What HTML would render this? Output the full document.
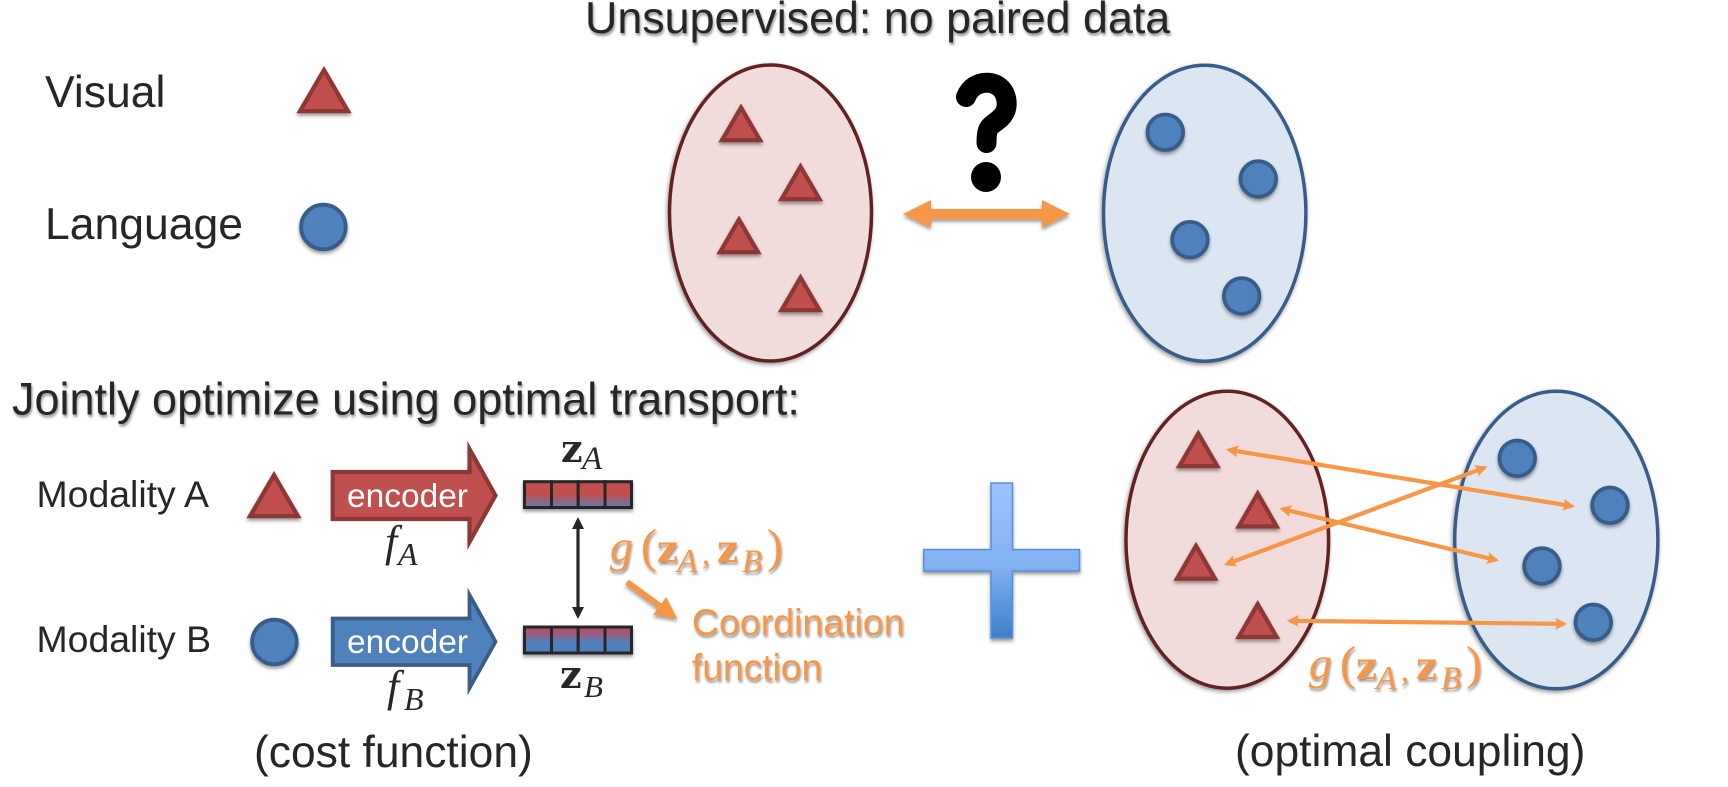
<!DOCTYPE html>
<html>
<head>
<meta charset="utf-8">
<style>
html,body{margin:0;padding:0;background:#fff;width:1728px;height:787px;overflow:hidden}
svg{display:block}
.s{font-family:"Liberation Sans",Arial,sans-serif;fill:#262626}
.m{font-family:"Liberation Serif",serif;fill:#262626}
.z{font-family:"DejaVu Serif",serif;font-weight:bold;fill:#262626}
.i{font-style:italic}
.o{fill:#f79646}
.r{fill:#c0504d;stroke:#8c3836;stroke-width:4.2;stroke-miterlimit:10}
.c{fill:#4f81bd;stroke:#385d8a;stroke-width:3.8}
</style>
</head>
<body>
<svg width="1728" height="787" viewBox="0 0 1728 787" xmlns="http://www.w3.org/2000/svg">
<defs>
<filter id="sh" x="-30%" y="-30%" width="160%" height="160%"><feDropShadow dx="0" dy="2.5" stdDeviation="1.8" flood-color="#000" flood-opacity=".4"/></filter>
<filter id="es" x="-10%" y="-10%" width="120%" height="120%"><feDropShadow dx="-1" dy="2" stdDeviation="2.2" flood-color="#000" flood-opacity=".4"/></filter>
<filter id="ts" x="-5%" y="-20%" width="110%" height="150%"><feDropShadow dx="1" dy="2.5" stdDeviation="1.3" flood-color="#000" flood-opacity=".42"/></filter>
<linearGradient id="ga" x1="0" y1="0" x2="0" y2="1"><stop offset="0" stop-color="#c0504d"/><stop offset=".5" stop-color="#c0504d"/><stop offset="1" stop-color="#5f7cb6"/></linearGradient>
<linearGradient id="gb" x1="0" y1="0" x2="0" y2="1"><stop offset="0" stop-color="#a8566f"/><stop offset=".2" stop-color="#a8566f"/><stop offset=".6" stop-color="#4f81bd"/><stop offset="1" stop-color="#4f81bd"/></linearGradient>
<linearGradient id="gp" x1="0" y1="0" x2="0" y2="1"><stop offset="0" stop-color="#9dc3ff"/><stop offset=".55" stop-color="#7fb0f0"/><stop offset="1" stop-color="#3d7ecb"/></linearGradient>
<marker id="mo" markerUnits="userSpaceOnUse" viewBox="0 0 12 12" refX="9" refY="6" markerWidth="12" markerHeight="12" orient="auto-start-reverse"><polygon points="0,0 12,6 0,12 2,6" fill="#f79646"/></marker>
<marker id="mk" markerUnits="userSpaceOnUse" viewBox="0 0 12 12" refX="9" refY="6" markerWidth="12" markerHeight="12" orient="auto-start-reverse"><polygon points="0,0 12,6 0,12" fill="#262626"/></marker>
<marker id="mO" markerUnits="userSpaceOnUse" viewBox="0 0 22 22" refX="14" refY="11" markerWidth="22" markerHeight="22" orient="auto"><polygon points="0,0 22,11 0,22" fill="#f79646"/></marker>
</defs>

<!-- Titles -->
<g filter="url(#ts)">
<text class="s" x="585" y="33" font-size="44.8">Unsupervised: no paired data</text>
<text class="s" x="12" y="414.5" font-size="45">Jointly optimize using optimal transport:</text>
</g>

<!-- Legend -->
<text class="s" x="45" y="107" font-size="44.5">Visual</text>
<text class="s" x="45" y="239" font-size="44.5">Language</text>
<polygon class="r" filter="url(#sh)" points="324,70 300,111.2 348,111.2"/>
<circle class="c" filter="url(#sh)" cx="323.4" cy="227" r="22.3"/>

<!-- Top ellipses -->
<ellipse filter="url(#es)" cx="770.5" cy="213" rx="101" ry="148" fill="#f2dcdb" stroke="#632423" stroke-width="3.5"/>
<ellipse filter="url(#es)" cx="1204.7" cy="213.2" rx="101.2" ry="148" fill="#dce6f2" stroke="#385d8a" stroke-width="3.5"/>
<g filter="url(#sh)">
<polygon class="r" points="741,107.5 722,140.2 760,140.2"/>
<polygon class="r" points="800.5,166.5 781.5,199.2 819.5,199.2"/>
<polygon class="r" points="739,219.5 720,252.2 758,252.2"/>
<polygon class="r" points="800.5,277.5 781.5,310.2 819.5,310.2"/>
</g>
<g filter="url(#sh)">
<circle class="c" cx="1165.3" cy="132.3" r="17.8"/>
<circle class="c" cx="1258.3" cy="179" r="17.8"/>
<circle class="c" cx="1190" cy="239.7" r="17.8"/>
<circle class="c" cx="1241.7" cy="296" r="17.8"/>
</g>

<!-- Question mark -->
<path d="M966,97 C970,87 978,82.7 987,82.7 C999,82.7 1006.7,92 1006.7,104 C1006.7,114 1000,119 993,124 C988,127.5 986.5,131 986.5,143" fill="none" stroke="#000" stroke-width="20" stroke-linecap="round" stroke-linejoin="round"/>
<circle cx="986" cy="177" r="15" fill="#000"/>

<!-- Big double arrow -->
<polygon filter="url(#sh)" fill="#f79646" points="903,214 931,200 931,209 1042,209 1042,200 1070,214 1042,227.7 1042,219.3 931,219.3 931,227.7"/>

<!-- Modality rows -->
<text class="s" x="36.5" y="507" font-size="37.4">Modality A</text>
<text class="s" x="36.5" y="652" font-size="37.4">Modality B</text>
<polygon class="r" filter="url(#sh)" points="274,475 250,516.2 298,516.2"/>
<circle class="c" filter="url(#sh)" cx="274.4" cy="642" r="22.3"/>

<!-- Encoder arrows -->
<polygon class="r" points="332.7,472 469.5,472 469.5,449 495.5,495.5 469.5,542 469.5,519 332.7,519"/>
<polygon class="c" stroke-miterlimit="10" points="332.7,618.5 469.5,618.5 469.5,595 495.5,641.7 469.5,688 469.5,665 332.7,665"/>
<text class="s" x="347" y="507" font-size="33.5" style="fill:#fff">encoder</text>
<text class="s" x="347" y="653" font-size="33.5" style="fill:#fff">encoder</text>

<text class="m i" x="385" y="556" font-size="44">f</text>
<text class="m i" x="398" y="565" font-size="32">A</text>
<text class="m i" x="387" y="701" font-size="44">f</text>
<text class="m i" x="404" y="710" font-size="32">B</text>

<!-- Vectors -->
<g filter="url(#sh)" stroke="#262626" stroke-width="3">
<rect x="524.5" y="481.7" width="27" height="25.8" fill="url(#ga)"/>
<rect x="551.5" y="481.7" width="26.7" height="25.8" fill="url(#ga)"/>
<rect x="578.2" y="481.7" width="26.8" height="25.8" fill="url(#ga)"/>
<rect x="605" y="481.7" width="26.5" height="25.8" fill="url(#ga)"/>
<rect x="524.5" y="627" width="27" height="26" fill="url(#gb)"/>
<rect x="551.5" y="627" width="26.7" height="26" fill="url(#gb)"/>
<rect x="578.2" y="627" width="26.8" height="26" fill="url(#gb)"/>
<rect x="605" y="627" width="26.5" height="26" fill="url(#gb)"/>
</g>
<text class="z" x="561" y="462" font-size="38">z</text>
<text class="m i" x="582" y="469" font-size="33">A</text>
<text class="z" x="560" y="688" font-size="38">z</text>
<text class="m i" x="584" y="697" font-size="31">B</text>

<!-- Black double arrow -->
<line x1="578" y1="520" x2="578" y2="616" stroke="#262626" stroke-width="3.2" marker-start="url(#mk)" marker-end="url(#mk)"/>

<!-- Coordination -->
<g filter="url(#ts)">
<text class="m i o" x="610" y="562" font-size="46">g</text>
<text class="m o" x="641" y="562" font-size="48">(</text>
<text class="z o" x="657" y="562" font-size="37">z</text>
<text class="m i o" x="677" y="572" font-size="34">A</text>
<text class="m o" x="702" y="564" font-size="32">,</text>
<text class="z o" x="717" y="562" font-size="37">z</text>
<text class="m i o" x="742" y="572" font-size="33">B</text>
<text class="m o" x="767" y="562" font-size="48">)</text>
</g>
<line x1="627" y1="582" x2="671" y2="614.2" stroke="#f79646" stroke-width="6" marker-end="url(#mO)" filter="url(#sh)"/>
<g filter="url(#ts)">
<text class="s o" x="692" y="635" font-size="37.5">Coordination</text>
<text class="s o" x="692" y="680" font-size="37.2">function</text>
</g>

<!-- Plus -->
<path filter="url(#sh)" d="M991,483 H1012.5 V549.5 H1079.5 V571 H1012.5 V638 H991 V571 H923.7 V549.5 H991 Z" fill="url(#gp)" stroke="#5b8fd0" stroke-width="1.5"/>

<!-- Bottom ellipses -->
<ellipse filter="url(#es)" cx="1227.3" cy="539.7" rx="101.3" ry="148.5" fill="#f2dcdb" stroke="#632423" stroke-width="3.5"/>
<ellipse filter="url(#es)" cx="1556.3" cy="540" rx="101.6" ry="148.8" fill="#dce6f2" stroke="#385d8a" stroke-width="3.5"/>
<g filter="url(#sh)">
<polygon class="r" points="1198.3,433.5 1179.3,466.2 1217.3,466.2"/>
<polygon class="r" points="1257.7,493.5 1238.7,526.5 1276.7,526.5"/>
<polygon class="r" points="1196,545.8 1177,578.7 1215,578.7"/>
<polygon class="r" points="1257.7,604.2 1238.7,637 1276.7,637"/>
</g>
<g filter="url(#sh)">
<circle class="c" cx="1517.3" cy="458.3" r="17.8"/>
<circle class="c" cx="1610" cy="505.3" r="17.8"/>
<circle class="c" cx="1542" cy="566" r="17.8"/>
<circle class="c" cx="1593.3" cy="622.3" r="17.8"/>
</g>

<!-- Coupling arrows -->
<g stroke="#f79646" stroke-width="4.2" fill="none">
<line x1="1229" y1="449.8" x2="1572" y2="506.2" marker-start="url(#mo)" marker-end="url(#mo)"/>
<line x1="1282.2" y1="509" x2="1496.1" y2="560" marker-start="url(#mo)" marker-end="url(#mo)"/>
<line x1="1226.8" y1="564" x2="1484.5" y2="467.7" marker-start="url(#mo)" marker-end="url(#mo)"/>
<line x1="1289.7" y1="620.8" x2="1564.3" y2="623.9" marker-start="url(#mo)" marker-end="url(#mo)"/>
</g>

<g transform="translate(699,117)" filter="url(#ts)">
<text class="m i o" x="610" y="562" font-size="46">g</text>
<text class="m o" x="641" y="562" font-size="48">(</text>
<text class="z o" x="657" y="562" font-size="37">z</text>
<text class="m i o" x="677" y="572" font-size="34">A</text>
<text class="m o" x="702" y="564" font-size="32">,</text>
<text class="z o" x="717" y="562" font-size="37">z</text>
<text class="m i o" x="742" y="572" font-size="33">B</text>
<text class="m o" x="767" y="562" font-size="48">)</text>
</g>

<!-- Captions -->
<text class="s" x="254" y="767" font-size="44.4">(cost function)</text>
<text class="s" x="1235" y="766" font-size="44.4">(optimal coupling)</text>
</svg>
</body>
</html>
